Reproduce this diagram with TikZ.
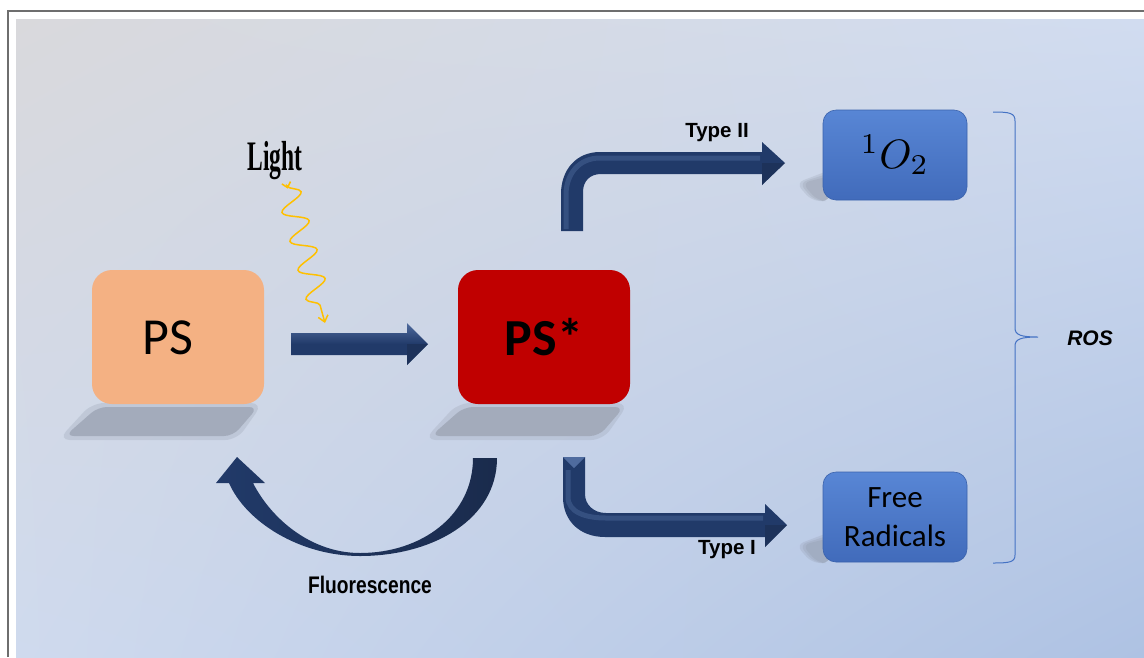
\documentclass[tikz,border=0pt]{standalone}
\usepackage{fontspec}
\setmainfont{Carlito}
\newfontfamily\libsans{Liberation Sans}
\newfontfamily\libserif{Liberation Serif}
\usetikzlibrary{arrows.meta,decorations.pathmorphing,calc,shadings}
\definecolor{bgUL}{HTML}{D9D9DC}
\definecolor{bgUR}{HTML}{D1DCF0}
\definecolor{bgLL}{HTML}{CFDAEE}
\definecolor{bgLR}{HTML}{AEC2E3}
\definecolor{framec}{HTML}{6E6E6E}
\definecolor{psfill}{HTML}{F4B183}
\definecolor{psstarfill}{HTML}{C00000}
\definecolor{bluetop}{HTML}{5886D5}
\definecolor{bluebot}{HTML}{416BBB}
\definecolor{blueedge}{HTML}{3A62AC}
\definecolor{navy}{HTML}{213A69}
\definecolor{navylight}{HTML}{4F6B9E}
\definecolor{navydark}{HTML}{1A2B4C}
\definecolor{shadowc}{HTML}{A3ABBB}
\definecolor{lightc}{HTML}{FFC000}
\definecolor{bracec}{HTML}{4472C4}
\begin{document}
\begin{tikzpicture}[x=1pt,y=-1pt,
  psbox/.style={rounded corners=20pt, minimum width=172pt, minimum height=134pt, inner sep=0pt},
  bluebox/.style={rounded corners=13pt, minimum width=144pt, minimum height=90pt, inner sep=0pt,
    top color=bluetop, bottom color=bluebot, draw=blueedge, line width=0.6pt},
  blockarrow/.style={fill=navy},
  boxshadow/.style={fill=shadowc, rounded corners=9pt},
  softshadow/.style={fill=shadowc!80!black, opacity=0.18, rounded corners=8pt},
  lbl/.style={inner sep=0pt, text=black},
  typelbl/.style={lbl, font=\libsans\bfseries\fontsize{20.5}{20.5}\selectfont}
]
\useasboundingbox (0,0) rectangle (1144,657);
\fill[white] (0,0) rectangle (1144,657);
% background
\shade[upper left=bgUL, upper right=bgUR, lower left=bgLL, lower right=bgLR] (16,19) rectangle (1144,657);
\draw[framec, line width=2pt] (8,657) -- (8,11) -- (1144,11);

% shadows of PS boxes
\fill[shadowc, opacity=0.35, rounded corners=12pt] (92,403) -- (263,403) -- (237,440) -- (58,440) -- cycle;
\fill[boxshadow] (98,407) -- (258,407) -- (233,436) -- (65,436) -- cycle;
\fill[shadowc, opacity=0.35, rounded corners=12pt] (458,403) -- (629,403) -- (603,440) -- (424,440) -- cycle;
\fill[boxshadow] (464,407) -- (624,407) -- (599,436) -- (431,436) -- cycle;

% soft shadows of blue boxes
\foreach \d in {0,3,6}{
  \fill[softshadow] (796+\d,183) -- (830,170+\d) -- (830,201) -- (812+\d,201) -- cycle;
  \fill[softshadow] (796+\d,545) -- (830,532+\d) -- (830,563) -- (812+\d,563) -- cycle;
}

% boxes
\node[psbox, fill=psfill] (ps) at (178,337) {};
\node[lbl, font=\fontsize{52}{52}\selectfont] (pstext) at (168,338) {PS};
\node[psbox, fill=psstarfill, font=\bfseries\fontsize{52}{52}\selectfont] (psstar) at (544,337) {PS*};
\node[bluebox] (singlet) at (895,155) {\raisebox{-3pt}{\scalebox{4.1}{$^1O_2$}}};
\node[bluebox, align=center, font=\fontsize{31}{39}\selectfont] (radicals) at (895,517) {Free\\Radicals};

% straight arrow PS -> PS*
\shade[top color=navylight, bottom color=navy, middle color=navy]
  (291,333) -- (407,333) -- (407,323) -- (428,344) -- (407,365) -- (407,355) -- (291,355) -- cycle;
\fill[navydark, opacity=0.5] (407,344) -- (428,344) -- (407,365) -- cycle;

% Type II bent arrow
\fill[blockarrow] (561,231) -- (561,194) .. controls (561,170) and (576,152) .. (600,152)
  -- (762,152) -- (762,142) -- (785,163) -- (762,185) -- (762,174) -- (601,174)
  .. controls (590,174) and (583,181) .. (583,192) -- (583,231) -- cycle;
\draw[navylight, opacity=0.45, line width=5pt] (566,229) -- (566,195) .. controls (566,174) and (579,158) .. (600,158) -- (760,158);
\fill[navydark, opacity=0.5] (762,163) -- (785,163) -- (762,185) -- cycle;

% Type I bent arrow
\fill[blockarrow] (563,457) -- (563,497) .. controls (563,521) and (580,537) .. (605,537)
  -- (765,537) -- (765,547) -- (787,525) -- (765,504) -- (765,513) -- (606,513)
  .. controls (594,513) and (585,505) .. (585,494) -- (585,457) -- cycle;
\draw[navylight, opacity=0.45, line width=5pt] (568,470) -- (568,497) .. controls (568,512) and (585,518) .. (606,518) -- (763,518);
\fill[navylight] (563,457) -- (585,457) -- (574,468) -- cycle;
\fill[navydark, opacity=0.5] (765,525) -- (787,525) -- (765,547) -- cycle;

% Fluorescence curved arrow
\shade[left color=navy, right color=navydark]
  (497,458) .. controls (497,520) and (432,556) .. (360,556)
  .. controls (300,556) and (246,522) .. (229,483)
  -- (216,483) -- (237,457) -- (265,483) -- (253,483)
  .. controls (272,520) and (312,553) .. (360,553)
  .. controls (422,553) and (473,515) .. (473,458) -- cycle;

% Light
\node[lbl, font=\libserif\bfseries\fontsize{42}{42}\selectfont] (light) at (275,161) {\scalebox{0.56}[1]{Light}};
\coordinate (wavestart) at (286,182);
\coordinate (waveend) at (325,323);
\draw[lightc, line width=1.5pt, {Straight Barb[reversed,length=5pt,width=9pt]}-{Straight Barb[length=6pt,width=10pt]},
  decorate, decoration={snake, amplitude=12pt, segment length=30pt, pre length=4pt, post length=6pt}]
  (wavestart) -- (waveend);

% labels
\node[typelbl] (typeII) at (717,133) {Type II};
\node[typelbl] (typeI) at (727,550) {Type I};
\node[lbl, font=\libsans\bfseries\fontsize{24}{24}\selectfont] (fluor) at (370,585) {\scalebox{0.8}[1]{Fluorescence}};

% brace
\draw[bracec, line width=1pt]
  (993,112) .. controls (1010,112) and (1015,113) .. (1015,121) -- (1015,328)
  .. controls (1015,335) and (1021,337) .. (1038,337)
  .. controls (1021,337) and (1015,339) .. (1015,346) -- (1015,555)
  .. controls (1015,562) and (1010,563) .. (993,563);
\coordinate (bracetip) at (1038,337);
\node[lbl, font=\libsans\bfseries\itshape\fontsize{21}{21}\selectfont] (ros) at (1090,338) {ROS};
\end{tikzpicture}
\end{document}
